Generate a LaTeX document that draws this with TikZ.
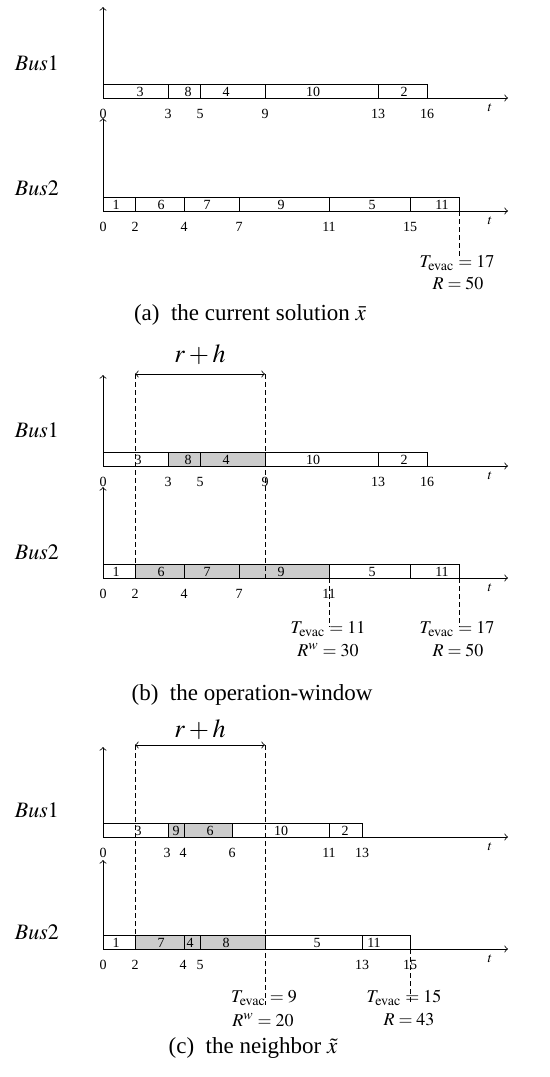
\documentclass[tikz,border=0pt]{standalone}
\usepackage{mathptmx}
\usepackage{fontspec}
\setmainfont{Liberation Serif}

% one bus row: #1 base line, #2 top of the axis, #3 blocks x1/x2/label x/label/fill, #4 ticks x/label
\newcommand{\busrow}[4]{%
  \draw[->] (103,#1) -- (103,#2);
  \foreach \xa/\xb/\xl/\lab/\fc in {#3} {
    \draw[fill=\fc] (\xa,#1) rectangle (\xb,#1-14);
    \node[slot] (blk-#1-\xa) at (\xl,#1-6.5) {\lab};
  }
  \draw[->] (103,#1) -- (508,#1);
  \node[ticklbl] (t-#1) at (490,#1+10) {$t$};
  \foreach \xt/\lab in {#4}
    \node[ticklbl] (tk-#1-\xt) at (\xt,#1+16) {\lab};
}

\tikzset{
  slot/.style={font=\fontsize{7}{8}\selectfont, inner sep=0pt},
  ticklbl/.style={font=\fontsize{7}{8}\selectfont, inner sep=0pt},
  buslbl/.style={font=\fontsize{11}{13}\selectfont, inner sep=0pt},
  evac/.style={font=\fontsize{9}{10}\selectfont, inner sep=0pt},
  capt/.style={font=\fontsize{11.5}{13}\selectfont, inner sep=0pt},
  span/.style={font=\fontsize{13}{15}\selectfont, inner sep=0pt},
  window/.style={dash pattern=on 2.5pt off 1.5pt},
  shade/.style={},
}
\colorlet{busy}{gray!40}

\begin{document}
\begin{tikzpicture}[x=0.5pt,y=-0.5pt]
  \useasboundingbox (0,0) rectangle (550,1077);

  % (a) the current solution
  \node[buslbl] (bus1-a) at (37,63) {$Bus1$};
  \busrow{98}{7}{103/168/140/3/white, 168/200/188/8/white, 200/265/226/4/white,
    265/378/313/10/white, 378/427/404/2/white}
    {103/0, 168/3, 200/5, 265/9, 378/13, 427/16}
  \node[buslbl] (bus2-a) at (37,188) {$Bus2$};
  \busrow{211}{118}{103/135/116/1/white, 135/184/161/6/white, 184/239/207/7/white,
    239/329/281/9/white, 329/410/372/5/white, 410/459/442/11/white}
    {103/0, 135/2, 184/4, 239/7, 329/11, 410/15}
  \coordinate (end-a) at (459,211);
  \coordinate (foot-a) at (459,258);
  \draw[window] (end-a) -- (foot-a);
  \node[evac] (tev-a) at (457,263) {$T_{\mathrm{evac}} = 17$};
  \node[evac] (r-a) at (458,283) {$R = 50$};
  \node[capt] (cap-a) at (250,315) {(a)\enspace the current solution $\bar{x}$};

  % (b) the operation-window
  \node[span] (rh-b) at (200,355) {$r+h$};
  \node[buslbl] (bus1-b) at (37,430) {$Bus1$};
  \busrow{466}{375}{103/168/138/3/white, 168/200/188/8/busy, 200/265/226/4/busy,
    265/378/313/10/white, 378/427/404/2/white}
    {103/0, 168/3, 200/5, 265/9, 378/13, 427/16}
  \node[buslbl] (bus2-b) at (37,552) {$Bus2$};
  \busrow{578}{487}{103/135/116/1/white, 135/184/161/6/busy, 184/239/207/7/busy,
    239/329/281/9/busy, 329/410/372/5/white, 410/459/442/11/white}
    {103/0, 135/2, 184/4, 239/7, 329/11}
  \coordinate (wl-b) at (135,374);
  \coordinate (wr-b) at (265,374);
  \draw[window] (wl-b) -- (135,578);
  \draw[window] (wr-b) -- (265,578);
  \draw[<->] (wl-b) -- (wr-b);
  \draw[window] (329,578) -- (329,627);
  \draw[window] (459,578) -- (459,627);
  \node[evac] (tev-b) at (328,629) {$T_{\mathrm{evac}} = 11$};
  \node[evac] (rw-b) at (328,650) {$R^{w} = 30$};
  \node[evac] (tev2-b) at (457,629) {$T_{\mathrm{evac}} = 17$};
  \node[evac] (r-b) at (458,650) {$R = 50$};
  \node[capt] (cap-b) at (252,695) {(b)\enspace the operation-window};

  % (c) the neighbor
  \node[span] (rh-c) at (200,730) {$r+h$};
  \node[buslbl] (bus1-c) at (37,810) {$Bus1$};
  \busrow{837}{747}{103/168/138/3/white, 168/184/176/9/busy, 184/232/210/6/busy,
    232/329/281/10/white, 329/362/345/2/white}
    {103/0, 167/3, 183/4, 232/6, 329/11, 362/13}
  \node[buslbl] (bus2-c) at (37,932) {$Bus2$};
  \busrow{949}{860}{103/135/116/1/white, 135/184/161/7/busy, 184/200/190/4/busy,
    200/265/226/8/busy, 265/362/317/5/white, 362/410/374/11/white}
    {103/0, 135/2, 183/4, 200/5, 362/13, 410/15}
  \coordinate (wl-c) at (135,745);
  \coordinate (wr-c) at (265,745);
  \draw[window] (wl-c) -- (135,949);
  \draw[window] (wr-c) -- (265,1005);
  \draw[<->] (wl-c) -- (wr-c);
  \draw[window] (410,949) -- (410,1003);
  \node[evac] (tev-c) at (264,998) {$T_{\mathrm{evac}} = 9$};
  \node[evac] (rw-c) at (263,1020) {$R^{w} = 20$};
  \node[evac] (tev2-c) at (404,998) {$T_{\mathrm{evac}} = 15$};
  \node[evac] (r-c) at (409,1020) {$R = 43$};
  \node[capt] (cap-c) at (253,1048) {(c)\enspace the neighbor $\tilde{x}$};
\end{tikzpicture}
\end{document}
